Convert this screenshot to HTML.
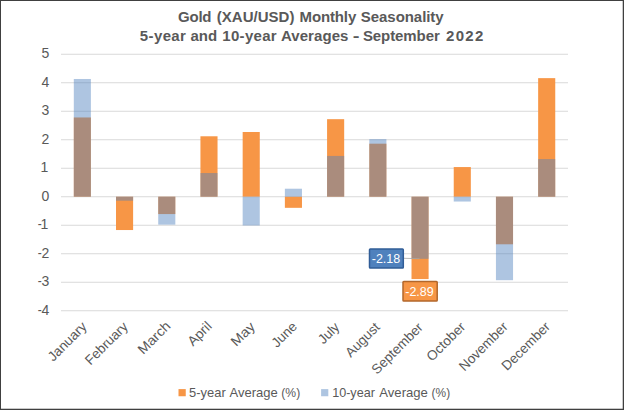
<!DOCTYPE html>
<html><head><meta charset="utf-8"><title>Gold (XAU/USD) Monthly Seasonality</title>
<style>html,body{margin:0;padding:0;background:#fff;}body{width:624px;height:410px;overflow:hidden;}svg{display:block;font-family:"Liberation Sans",sans-serif;}</style></head><body>
<svg width="624" height="410" viewBox="0 0 624 410">
<rect x="0" y="0" width="624" height="410" fill="#fff"/>
<g id="grid">
<line x1="61.0" x2="568.0" y1="310.70" y2="310.70" stroke="#D9D9D9" stroke-width="1.1"/>
<line x1="61.0" x2="568.0" y1="282.20" y2="282.20" stroke="#D9D9D9" stroke-width="1.1"/>
<line x1="61.0" x2="568.0" y1="253.70" y2="253.70" stroke="#D9D9D9" stroke-width="1.1"/>
<line x1="61.0" x2="568.0" y1="225.20" y2="225.20" stroke="#D9D9D9" stroke-width="1.1"/>
<line x1="61.0" x2="568.0" y1="196.70" y2="196.70" stroke="#D9D9D9" stroke-width="1.1"/>
<line x1="61.0" x2="568.0" y1="168.20" y2="168.20" stroke="#D9D9D9" stroke-width="1.1"/>
<line x1="61.0" x2="568.0" y1="139.70" y2="139.70" stroke="#D9D9D9" stroke-width="1.1"/>
<line x1="61.0" x2="568.0" y1="111.20" y2="111.20" stroke="#D9D9D9" stroke-width="1.1"/>
<line x1="61.0" x2="568.0" y1="82.70" y2="82.70" stroke="#D9D9D9" stroke-width="1.1"/>
<line x1="61.0" x2="568.0" y1="54.20" y2="54.20" stroke="#D9D9D9" stroke-width="1.1"/>
</g>
<g id="bars">
<rect x="73.80" y="117.47" width="17.1" height="79.23" fill="#F79646"/>
<rect x="73.80" y="78.99" width="17.1" height="117.70" fill="rgba(79,129,189,0.46)"/>
<rect x="116.01" y="196.70" width="17.1" height="33.34" fill="#F79646"/>
<rect x="116.01" y="196.70" width="17.1" height="3.99" fill="rgba(79,129,189,0.46)"/>
<rect x="158.23" y="196.70" width="17.1" height="17.38" fill="#F79646"/>
<rect x="158.23" y="196.70" width="17.1" height="27.93" fill="rgba(79,129,189,0.46)"/>
<rect x="200.44" y="136.28" width="17.1" height="60.42" fill="#F79646"/>
<rect x="200.44" y="173.04" width="17.1" height="23.66" fill="rgba(79,129,189,0.46)"/>
<rect x="242.66" y="132.00" width="17.1" height="64.69" fill="#F79646"/>
<rect x="242.66" y="196.70" width="17.1" height="28.78" fill="rgba(79,129,189,0.46)"/>
<rect x="284.87" y="196.70" width="17.1" height="11.12" fill="#F79646"/>
<rect x="284.87" y="188.72" width="17.1" height="7.98" fill="rgba(79,129,189,0.46)"/>
<rect x="327.08" y="119.18" width="17.1" height="77.52" fill="#F79646"/>
<rect x="327.08" y="155.94" width="17.1" height="40.75" fill="rgba(79,129,189,0.46)"/>
<rect x="369.30" y="143.69" width="17.1" height="53.01" fill="#F79646"/>
<rect x="369.30" y="139.13" width="17.1" height="57.57" fill="rgba(79,129,189,0.46)"/>
<rect x="411.51" y="196.70" width="17.1" height="82.37" fill="#F79646"/>
<rect x="411.51" y="196.70" width="17.1" height="62.13" fill="rgba(79,129,189,0.46)"/>
<rect x="453.73" y="167.06" width="17.1" height="29.64" fill="#F79646"/>
<rect x="453.73" y="196.70" width="17.1" height="4.84" fill="rgba(79,129,189,0.46)"/>
<rect x="495.94" y="196.70" width="17.1" height="47.59" fill="#F79646"/>
<rect x="495.94" y="196.70" width="17.1" height="83.50" fill="rgba(79,129,189,0.46)"/>
<rect x="538.15" y="78.14" width="17.1" height="118.56" fill="#F79646"/>
<rect x="538.15" y="159.08" width="17.1" height="37.62" fill="rgba(79,129,189,0.46)"/>
</g>
<g id="yaxis" font-size="14" fill="#595959">
<text x="49.3" y="314.85" text-anchor="end">4</text>
<text x="37.7" y="314.85" textLength="4.0" lengthAdjust="spacingAndGlyphs">-</text>
<text x="49.3" y="286.35" text-anchor="end">3</text>
<text x="37.7" y="286.35" textLength="4.0" lengthAdjust="spacingAndGlyphs">-</text>
<text x="49.3" y="257.85" text-anchor="end">2</text>
<text x="37.7" y="257.85" textLength="4.0" lengthAdjust="spacingAndGlyphs">-</text>
<text x="48.2" y="229.35" text-anchor="end">1</text>
<text x="37.7" y="229.35" textLength="4.0" lengthAdjust="spacingAndGlyphs">-</text>
<text x="49.3" y="200.85" text-anchor="end">0</text>
<text x="48.2" y="172.35" text-anchor="end">1</text>
<text x="49.3" y="143.85" text-anchor="end">2</text>
<text x="49.3" y="115.35" text-anchor="end">3</text>
<text x="49.3" y="86.85" text-anchor="end">4</text>
<text x="49.3" y="58.35" text-anchor="end">5</text>
</g>
<g id="xaxis" font-size="13.6" fill="#595959" text-anchor="end">
<text transform="translate(87.7,327.5) rotate(-45)" textLength="48.83" lengthAdjust="spacingAndGlyphs">January</text>
<text transform="translate(128.7,327.4) rotate(-45)" textLength="54.18" lengthAdjust="spacingAndGlyphs">February</text>
<text transform="translate(171.4,326.8) rotate(-45)" textLength="39.82" lengthAdjust="spacingAndGlyphs">March</text>
<text transform="translate(212.7,327.0) rotate(-45)" textLength="27.94" lengthAdjust="spacingAndGlyphs">April</text>
<text transform="translate(255.8,327.6) rotate(-45)" textLength="27.61" lengthAdjust="spacingAndGlyphs">May</text>
<text transform="translate(297.9,327.3) rotate(-45)" textLength="29.48" lengthAdjust="spacingAndGlyphs">June</text>
<text transform="translate(340.3,328.0) rotate(-45)" textLength="23.85" lengthAdjust="spacingAndGlyphs">July</text>
<text transform="translate(380.7,328.0) rotate(-45)" textLength="42.33" lengthAdjust="spacingAndGlyphs">August</text>
<text transform="translate(423.8,328.2) rotate(-45)" textLength="66.16" lengthAdjust="spacingAndGlyphs">September</text>
<text transform="translate(466.2,327.7) rotate(-45)" textLength="48.36" lengthAdjust="spacingAndGlyphs">October</text>
<text transform="translate(508.6,327.6) rotate(-45)" textLength="62.38" lengthAdjust="spacingAndGlyphs">November</text>
<text transform="translate(550.9,327.5) rotate(-45)" textLength="62.04" lengthAdjust="spacingAndGlyphs">December</text>
</g>
<g id="title" font-size="15" font-weight="bold" fill="#595959">
<text x="177.96" y="21.6" textLength="33.56" lengthAdjust="spacing">Gold</text>
<text x="216.76" y="21.6" textLength="77.68" lengthAdjust="spacing">(XAU/USD)</text>
<text x="299.55" y="21.6" textLength="56.68" lengthAdjust="spacing">Monthly</text>
<text x="360.87" y="21.6" textLength="82.74" lengthAdjust="spacing">Seasonality</text>
<text x="139.86" y="41.2" textLength="46.07" lengthAdjust="spacing">5-year</text>
<text x="190.57" y="41.2" textLength="26.52" lengthAdjust="spacing">and</text>
<text x="222.34" y="41.2" textLength="54.3" lengthAdjust="spacing">10-year</text>
<text x="280.9" y="41.2" textLength="67.49" lengthAdjust="spacing">Averages</text>
<text x="352.7" y="41.2" textLength="6.76" lengthAdjust="spacingAndGlyphs">-</text>
<text x="362.95" y="41.2" textLength="76.79" lengthAdjust="spacing">September</text>
<text x="446.06" y="41.2" textLength="37.27" lengthAdjust="spacing">2022</text>
</g>
<g id="datalabels">
<line x1="404" y1="258.3" x2="419.5" y2="258.7" stroke="#A6A6A6" stroke-width="0.8"/>
<rect x="369.5" y="248.9" width="33.8" height="19.2" fill="#4F81BD" stroke="#315D97" stroke-width="1.5" rx="0.8"/>
<text x="386" y="263.4" font-size="12.5" fill="#fff" text-anchor="middle">-2.18</text>
<rect x="403.0" y="281.5" width="34.2" height="19.5" fill="#F79646" stroke="#B2672B" stroke-width="1.5" rx="0.8"/>
<text x="419.5" y="296.2" font-size="12.5" fill="#fff" text-anchor="middle">-2.89</text>
</g>
<g id="legend" font-size="13.6" fill="#595959">
<rect x="178.5" y="389.1" width="7.25" height="7.15" fill="#F79646"/>
<rect x="321.1" y="389.1" width="7.2" height="7.15" fill="rgba(79,129,189,0.46)"/>
<text x="189.09" y="396.7" textLength="36.64" lengthAdjust="spacingAndGlyphs">5-year</text>
<text x="229.53" y="396.7" textLength="48.23" lengthAdjust="spacingAndGlyphs">Average</text>
<text x="281.33" y="396.7" textLength="18.88" lengthAdjust="spacingAndGlyphs">(%)</text>
<text x="332.17" y="396.7" textLength="42.7" lengthAdjust="spacingAndGlyphs">10-year</text>
<text x="379.31" y="396.7" textLength="48.57" lengthAdjust="spacingAndGlyphs">Average</text>
<text x="431.62" y="396.7" textLength="18.51" lengthAdjust="spacingAndGlyphs">(%)</text>
</g>
<rect x="0.5" y="0.5" width="623" height="409" fill="none" stroke="#404040" stroke-width="1"/>
<line x1="622.5" y1="0" x2="622.5" y2="410" stroke="#404040" stroke-width="1" opacity="0.28"/>
<line x1="0" y1="408.5" x2="624" y2="408.5" stroke="#404040" stroke-width="1" opacity="0.28"/>
</svg></body></html>
